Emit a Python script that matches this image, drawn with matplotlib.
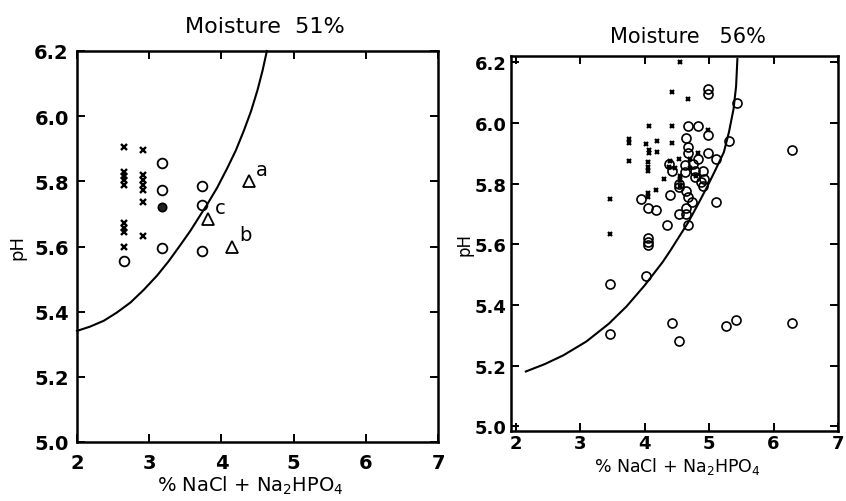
import matplotlib
matplotlib.use("Agg")
import matplotlib.pyplot as plt

plt.rcParams['font.family'] = ['DejaVu Sans']
plt.rcParams['mathtext.fontset'] = 'dejavusans'

# ---------------- Left panel: Moisture 51% ----------------
left_cross_x = [2.65, 2.65, 2.65, 2.65, 2.65, 2.65, 2.65, 2.65, 2.65,
                2.92, 2.92, 2.92, 2.92, 2.92, 2.92, 2.92]
left_cross_y = [5.906, 5.829, 5.815, 5.803, 5.79, 5.671, 5.658, 5.645, 5.60,
                5.896, 5.82, 5.805, 5.79, 5.774, 5.738, 5.633]
left_circle_x = [3.18, 3.18, 3.18, 3.73, 3.73, 3.73, 2.65]
left_circle_y = [5.855, 5.774, 5.596, 5.785, 5.726, 5.585, 5.555]
left_filled_x = [3.18]
left_filled_y = [5.72]
left_tri_x = [4.38, 4.15, 3.82]
left_tri_y = [5.80, 5.60, 5.683]
left_tri_labels = ['a', 'b', 'c']
left_curve_x = [2.0, 2.18, 2.37, 2.55, 2.74, 2.92, 3.11, 3.27, 3.43, 3.57,
                3.71, 3.80, 3.94, 4.08, 4.20, 4.31, 4.41, 4.50, 4.57, 4.63]
left_curve_y = [5.341, 5.354, 5.372, 5.397, 5.428, 5.466, 5.511, 5.555, 5.604, 5.648,
                5.697, 5.728, 5.78, 5.84, 5.895, 5.955, 6.015, 6.08, 6.14, 6.20]

# ---------------- Right panel: Moisture 56% ----------------
right_cross_x = [4.55, 4.43, 4.68, 4.07, 4.43, 3.76, 3.76, 3.76, 4.02, 4.20,
                 4.43, 4.07, 4.07, 4.20, 4.05, 4.05, 4.05, 4.30, 4.18, 4.05,
                 4.05, 3.47, 3.47, 4.40, 4.53, 4.70, 4.83, 4.48, 4.55, 4.55,
                 4.55, 4.70, 4.80, 4.38, 4.98]
right_cross_y = [6.20, 6.10, 6.08, 5.99, 5.99, 5.947, 5.935, 5.875, 5.93, 5.94,
                 5.935, 5.91, 5.90, 5.905, 5.87, 5.855, 5.842, 5.815, 5.78, 5.77,
                 5.755, 5.75, 5.634, 5.875, 5.88, 5.88, 5.90, 5.85, 5.826, 5.81,
                 5.793, 5.85, 5.826, 5.853, 5.975]
right_circle_x = [4.98, 4.98, 5.43, 4.68, 4.83, 4.98, 5.31, 4.65, 4.68, 4.68,
                  4.98, 5.11, 4.83, 4.38, 4.43, 4.63, 4.75, 4.63, 4.78, 4.91,
                  4.78, 4.88, 4.93, 4.91, 4.53, 4.53, 4.65, 4.68, 4.40, 3.95,
                  4.05, 4.18, 4.73, 4.65, 4.53, 4.65, 4.35, 4.68, 5.11, 4.05,
                  4.05, 4.05, 4.02, 3.46, 3.46, 4.42, 4.54, 5.27, 5.42, 6.29,
                  6.29]
right_circle_y = [6.11, 6.095, 6.065, 5.99, 5.99, 5.96, 5.94, 5.95, 5.92, 5.90,
                  5.90, 5.88, 5.88, 5.865, 5.842, 5.86, 5.865, 5.837, 5.842, 5.842,
                  5.82, 5.805, 5.815, 5.793, 5.80, 5.788, 5.777, 5.755, 5.762, 5.75,
                  5.72, 5.713, 5.74, 5.72, 5.70, 5.70, 5.664, 5.664, 5.74, 5.62,
                  5.607, 5.596, 5.497, 5.47, 5.305, 5.34, 5.28, 5.33, 5.35, 5.34,
                  5.91]
right_curve_x = [2.16, 2.45, 2.74, 3.10, 3.445, 3.72, 4.0, 4.28, 4.40, 4.68,
                 4.85, 4.98, 5.10, 5.23, 5.31, 5.38, 5.42, 5.44]
right_curve_y = [5.181, 5.205, 5.234, 5.28, 5.338, 5.395, 5.464, 5.541, 5.579, 5.673,
                 5.74, 5.793, 5.845, 5.903, 5.97, 6.045, 6.12, 6.21]

x_ticks = [2, 3, 4, 5, 6, 7]
y_ticks = [5.0, 5.2, 5.4, 5.6, 5.8, 6.0, 6.2]
xlabel = '% NaCl + Na$_2$HPO$_4$'
W, H = 846, 502

fig = plt.figure(figsize=(8.46, 5.02), dpi=100)
axL = fig.add_axes([77/W, 1 - 443/H, (438 - 77)/W, (443 - 52)/H])
axR = fig.add_axes([511/W, 1 - 432/H, (838 - 511)/W, (432 - 57)/H])


def style(ax, xlim, ylim, tsize, xpad, ypad):
    ax.set_xlim(*xlim)
    ax.set_ylim(*ylim)
    ax.set_xticks(x_ticks)
    ax.set_yticks(y_ticks)
    ax.set_xticklabels([str(t) for t in x_ticks], fontweight='bold')
    ax.set_yticklabels(['%.1f' % t for t in y_ticks], fontweight='bold')
    ax.tick_params(direction='in', top=True, right=True, length=6, width=1.4,
                   labelsize=tsize, colors='black')
    ax.tick_params(axis='x', pad=xpad)
    ax.tick_params(axis='y', pad=ypad)
    for s in ax.spines.values():
        s.set_linewidth(1.8)
        s.set_color('black')


style(axL, (2, 7), (5.0, 6.2), 14, 8, 6)
style(axR, (1.93, 7.0), (4.985, 6.22), 13, 2, 3)

# Titles and axis labels
fig.text(265/W, 1 - 27/H, 'Moisture  51%', fontsize=16, ha='center', va='center')
fig.text(688/W, 1 - 37/H, 'Moisture   56%', fontsize=15, ha='center', va='center')
fig.text(250/W, 1 - 486/H, xlabel, fontsize=14, ha='center', va='center')
fig.text(677/W, 1 - 467/H, xlabel, fontsize=12.5, ha='center', va='center')
fig.text(17/W, 1 - 247/H, 'pH', fontsize=13, rotation=90, ha='center', va='center')
fig.text(464/W, 1 - 245/H, 'pH', fontsize=12, rotation=90, ha='center', va='center')

# Left panel marks
axL.plot(left_curve_x, left_curve_y, color='black', lw=1.5, clip_on=False)
axL.plot(left_cross_x, left_cross_y, linestyle='none', marker='x', ms=4,
         mew=1.7, color='black')
axL.plot(left_circle_x, left_circle_y, linestyle='none', marker='o', ms=7,
         mfc='none', mec='black', mew=1.3)
axL.plot(left_filled_x, left_filled_y, linestyle='none', marker='o', ms=6,
         mfc='#222222', mec='black', mew=1.2)
axL.plot(left_tri_x, left_tri_y, linestyle='none', marker='^', ms=8,
         mfc='none', mec='black', mew=1.3)
for tx, ty, lab in zip(left_tri_x, left_tri_y, left_tri_labels):
    axL.annotate(lab, (tx, ty), xytext=(5, 2), textcoords='offset points',
                 fontsize=14, ha='left', va='bottom')

# Right panel marks
axR.plot(right_curve_x, right_curve_y, color='black', lw=1.5, clip_on=False)
axR.plot(right_cross_x, right_cross_y, linestyle='none', marker='x', ms=3.5,
         mew=1.6, color='black')
axR.plot(right_circle_x, right_circle_y, linestyle='none', marker='o', ms=6.5,
         mfc='none', mec='black', mew=1.2)

fig.savefig('out.png', dpi=100, facecolor='white')
